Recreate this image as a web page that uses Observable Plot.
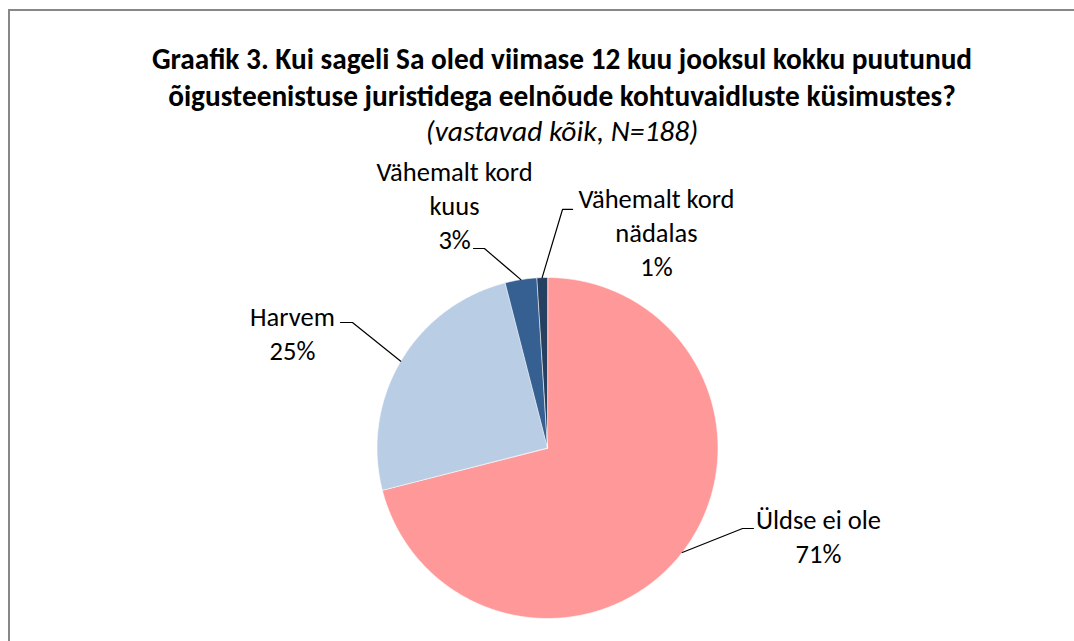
<!DOCTYPE html>
<html>
<head>
<meta charset="utf-8">
<script src="https://cdn.jsdelivr.net/npm/d3@7"></script>
<script src="https://cdn.jsdelivr.net/npm/@observablehq/plot@0.6"></script>
<style>
  html, body { margin: 0; padding: 0; background: #fff; overflow: hidden; width: 1074px; height: 641px; }
  #frame { position: absolute; left: 8px; top: 9px; width: 1200px; height: 800px; border: 2px solid #878787; box-sizing: border-box; }
  #title { position: absolute; left: 0; top: 0; width: 1124px; text-align: center; font-family: Carlito, Lato, "Open Sans", sans-serif; color: #000; }
  #title .t { font-weight: bold; font-size: 29.3px; line-height: 37px; }
  #title .s { font-style: italic; font-size: 29.5px; line-height: 32px; }
  #chart { position: absolute; left: 0; top: 150px; }
</style>
</head>
<body>
<div id="frame"></div>
<div id="title" style="padding-top:41px">
  <div class="t">Graafik 3. Kui sageli Sa oled viimase 12 kuu jooksul kokku puutunud<br>õigusteenistuse juristidega eelnõude kohtuvaidluste küsimustes?</div>
  <div class="s">(vastavad kõik, N=188)</div>
</div>
<div id="chart"></div>
<script>
// ---- data ----
const categories = ["Üldse ei ole", "Harvem", "Vähemalt kord kuus", "Vähemalt kord nädalas"];
const values = [71, 25, 3, 1];
const labelTexts = ["Üldse ei ole\n71%", "Harvem\n25%", "Vähemalt kord\nkuus\n3%", "Vähemalt kord\nnädalas\n1%"];
const colors = ["#FF9999", "#B9CDE5", "#376092", "#254061"];

// ---- layout (radius units, y up; centre of pie = 0,0) ----
const W = 1074, H = 491, CX = 547, CY = 297.5, R = 170.5;
const labelPos = [[1.589, -0.510], [-1.496, 0.682], [-0.545, 1.430], [0.639, 1.270]];
const leaderElbow = [[1.144, -0.472], [-1.144, 0.736], [-0.370, 1.170], [0.088, 1.399]];
const leaderEnd = [[1.208, -0.472], [-1.214, 0.736], [-0.434, 1.170], [0.147, 1.399]];

const rows = categories.map((c, i) => ({cat: c, value: values[i]}));
const arcs = d3.pie().sort(null).value(d => d.value)(rows);

const slicePts = [];
arcs.forEach(a => {
  const c = a.data.cat;
  slicePts.push({cat: c, x: 0, y: 0});
  const n = Math.max(4, Math.ceil((a.endAngle - a.startAngle) / (Math.PI / 360)));
  for (let k = 0; k <= n; k++) {
    const t = a.startAngle + (a.endAngle - a.startAngle) * k / n;
    slicePts.push({cat: c, x: Math.sin(t), y: Math.cos(t)});
  }
});

const leaders = [];
arcs.forEach((a, i) => {
  const m = (a.startAngle + a.endAngle) / 2;
  leaders.push({cat: a.data.cat, x: Math.sin(m), y: Math.cos(m)});
  leaders.push({cat: a.data.cat, x: leaderElbow[i][0], y: leaderElbow[i][1]});
  leaders.push({cat: a.data.cat, x: leaderEnd[i][0], y: leaderEnd[i][1]});
});

const labels = categories.map((c, i) => ({cat: c, text: labelTexts[i], x: labelPos[i][0], y: labelPos[i][1]}));

const font = 'Carlito, Lato, "Open Sans", sans-serif';
const chart = Plot.plot({
  width: W, height: H, margin: 0,
  style: {fontFamily: font, background: "transparent"},
  x: {domain: [-CX / R, (W - CX) / R], axis: null},
  y: {domain: [-(H - CY) / R, CY / R], axis: null},
  color: {domain: categories, range: colors},
  marks: [
    Plot.line(slicePts, {x: "x", y: "y", z: "cat", fill: "cat", stroke: "white", strokeWidth: 0.6, curve: "linear-closed"}),
    Plot.line(leaders, {x: "x", y: "y", z: "cat", stroke: "#000", strokeWidth: 1.2}),
    Plot.text(labels, {x: "x", y: "y", text: "text", textAnchor: "middle", lineAnchor: "middle", fontSize: 26.5, lineHeight: 1.28, fill: "#000", fontFamily: font})
  ]
});
document.getElementById("chart").appendChild(chart);
</script>
</body>
</html>
